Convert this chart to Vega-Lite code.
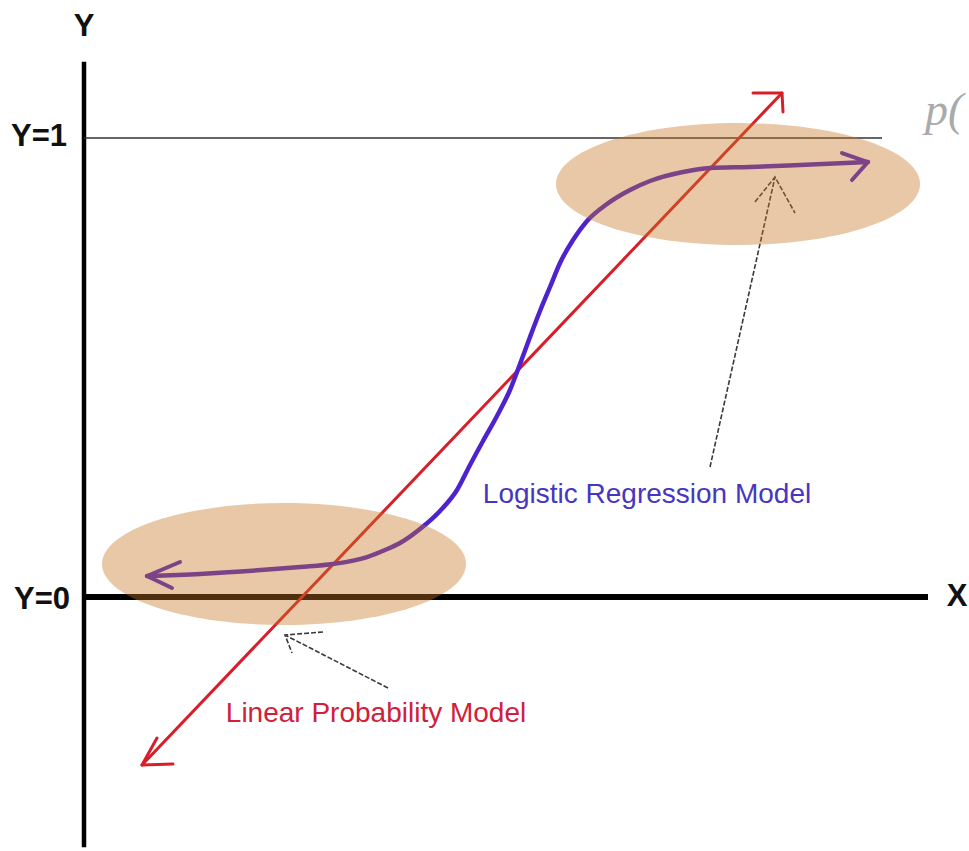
{
  "$schema": "https://vega.github.io/schema/vega-lite/v6.json",
  "width": 969,
  "height": 851,
  "autosize": {"type": "none"},
  "padding": 0,
  "background": "white",
  "config": {"view": {"stroke": null}},
  "encoding": {
    "x": {"field": "x", "type": "quantitative", "scale": {"domain": [-0.84, 8.85], "nice": false, "zero": false}, "axis": null},
    "y": {"field": "y", "type": "quantitative", "scale": {"domain": [-0.5534, 1.3007], "nice": false, "zero": false}, "axis": null}
  },
  "layer": [
    {
      "data": {"values": [{"x": 0, "y": -0.545, "y2": 1.166}]},
      "mark": {"type": "rule", "color": "#000000", "strokeWidth": 4.5},
      "encoding": {"y2": {"field": "y2"}}
    },
    {
      "data": {"values": [{"x": 0, "x2": 8.44, "y": 0}]},
      "mark": {"type": "rule", "color": "#000000", "strokeWidth": 6},
      "encoding": {"x2": {"field": "x2"}}
    },
    {
      "data": {"values": [{"x": 0, "x2": 7.98, "y": 1}]},
      "mark": {"type": "rule", "color": "#333333", "strokeWidth": 1.5},
      "encoding": {"x2": {"field": "x2"}}
    },
    {
      "data": {"values": [
        {"seg": "main", "i": 0, "x": 0.58, "y": -0.366},
        {"seg": "main", "i": 1, "x": 6.98, "y": 1.098},
        {"seg": "h1", "i": 0, "x": 0.73, "y": -0.3072},
        {"seg": "h1", "i": 1, "x": 0.58, "y": -0.366},
        {"seg": "h1", "i": 2, "x": 0.89, "y": -0.3638},
        {"seg": "h2", "i": 0, "x": 6.69, "y": 1.098},
        {"seg": "h2", "i": 1, "x": 6.98, "y": 1.098},
        {"seg": "h2", "i": 2, "x": 6.99, "y": 1.0566}
      ]},
      "mark": {"type": "line", "color": "#D81E28", "strokeWidth": 3, "strokeJoin": "round", "strokeCap": "round"},
      "encoding": {"detail": {"field": "seg"}, "order": {"field": "i", "type": "quantitative"}}
    },
    {
      "data": {"values": [
        {"x": 0.63, "y": 0.0458},
        {"x": 1.16, "y": 0.0501},
        {"x": 1.49, "y": 0.0545},
        {"x": 2.16, "y": 0.0654},
        {"x": 2.49, "y": 0.0719},
        {"x": 2.83, "y": 0.0871},
        {"x": 3.01, "y": 0.1024},
        {"x": 3.16, "y": 0.1176},
        {"x": 3.36, "y": 0.1481},
        {"x": 3.56, "y": 0.1874},
        {"x": 3.73, "y": 0.2331},
        {"x": 3.86, "y": 0.2876},
        {"x": 3.99, "y": 0.3399},
        {"x": 4.13, "y": 0.3943},
        {"x": 4.26, "y": 0.451},
        {"x": 4.36, "y": 0.5076},
        {"x": 4.46, "y": 0.5664},
        {"x": 4.56, "y": 0.6231},
        {"x": 4.66, "y": 0.6754},
        {"x": 4.76, "y": 0.7277},
        {"x": 4.89, "y": 0.7778},
        {"x": 5.03, "y": 0.8192},
        {"x": 5.23, "y": 0.8562},
        {"x": 5.46, "y": 0.8867},
        {"x": 5.66, "y": 0.9063},
        {"x": 5.99, "y": 0.9259},
        {"x": 6.26, "y": 0.9346},
        {"x": 6.66, "y": 0.9368},
        {"x": 7.16, "y": 0.9412},
        {"x": 7.84, "y": 0.9477}
      ]},
      "mark": {"type": "line", "color": "#4E22CC", "strokeWidth": 4.5, "interpolate": "monotone", "strokeCap": "round"},
      "encoding": {}
    },
    {
      "data": {"values": [
        {"seg": "h1", "i": 0, "x": 0.96, "y": 0.0763},
        {"seg": "h1", "i": 1, "x": 0.63, "y": 0.0458},
        {"seg": "h1", "i": 2, "x": 0.88, "y": 0.0196},
        {"seg": "h2", "i": 0, "x": 7.58, "y": 0.9673},
        {"seg": "h2", "i": 1, "x": 7.84, "y": 0.9477},
        {"seg": "h2", "i": 2, "x": 7.68, "y": 0.9085}
      ]},
      "mark": {"type": "line", "color": "#4E22CC", "strokeWidth": 4, "strokeJoin": "round", "strokeCap": "round"},
      "encoding": {"detail": {"field": "seg"}, "order": {"field": "i", "type": "quantitative"}}
    },
    {
      "data": {"values": [
        {"seg": "a1", "i": 0, "x": 6.26, "y": 0.2832},
        {"seg": "a1", "i": 1, "x": 6.91, "y": 0.915},
        {"seg": "a1h", "i": 0, "x": 6.71, "y": 0.8606},
        {"seg": "a1h", "i": 1, "x": 6.91, "y": 0.915},
        {"seg": "a1h", "i": 2, "x": 7.11, "y": 0.8366},
        {"seg": "a2", "i": 0, "x": 3.04, "y": -0.1983},
        {"seg": "a2", "i": 1, "x": 2.01, "y": -0.0828},
        {"seg": "a2h", "i": 0, "x": 2.39, "y": -0.0763},
        {"seg": "a2h", "i": 1, "x": 2.01, "y": -0.0828},
        {"seg": "a2h", "i": 2, "x": 2.08, "y": -0.122}
      ]},
      "mark": {"type": "line", "color": "#3a3a3a", "strokeWidth": 1.6, "strokeDash": [5, 2]},
      "encoding": {"detail": {"field": "seg"}, "order": {"field": "i", "type": "quantitative"}}
    },
    {
      "data": {"values": [
        {"x": 6.54, "y": 0.8998},
        {"x": 2.0, "y": 0.0719}
      ]},
      "mark": {
        "type": "point",
        "shape": "M -1 0 C -1 -0.185 -0.5523 -0.335 0 -0.335 C 0.5523 -0.335 1 -0.185 1 0 C 1 0.185 0.5523 0.335 0 0.335 C -0.5523 0.335 -1 0.185 -1 0 Z",
        "size": 132496,
        "filled": true,
        "fill": "#C67621",
        "opacity": 0.4,
        "strokeWidth": 0
      }
    },
    {
      "data": {"values": [
        {"label": "Y", "x": 0, "y": 1.2418},
        {"label": "Y=1", "x": -0.45, "y": 1.002},
        {"label": "Y=0", "x": -0.42, "y": -0.0065},
        {"label": "X", "x": 8.73, "y": 0}
      ]},
      "mark": {"type": "text", "font": "Liberation Sans", "fontWeight": "bold", "fontSize": 31, "color": "#111111", "align": "center", "baseline": "middle"},
      "encoding": {"text": {"field": "label"}}
    },
    {
      "data": {"values": [{"label": "p(", "x": 8.41, "y": 1.0283}]},
      "mark": {"type": "text", "font": "Liberation Serif", "fontStyle": "italic", "fontSize": 46, "color": "#aaaaaa", "align": "left", "baseline": "alphabetic"},
      "encoding": {"text": {"field": "label"}}
    },
    {
      "data": {"values": [{"label": "Logistic Regression Model", "x": 5.63, "y": 0.2048}]},
      "mark": {"type": "text", "font": "Liberation Sans", "fontSize": 28, "color": "#4836C0", "align": "center", "baseline": "alphabetic"},
      "encoding": {"text": {"field": "label"}}
    },
    {
      "data": {"values": [{"label": "Linear Probability Model", "x": 2.92, "y": -0.2723}]},
      "mark": {"type": "text", "font": "Liberation Sans", "fontSize": 28, "color": "#D0203A", "align": "center", "baseline": "alphabetic"},
      "encoding": {"text": {"field": "label"}}
    }
  ]
}
